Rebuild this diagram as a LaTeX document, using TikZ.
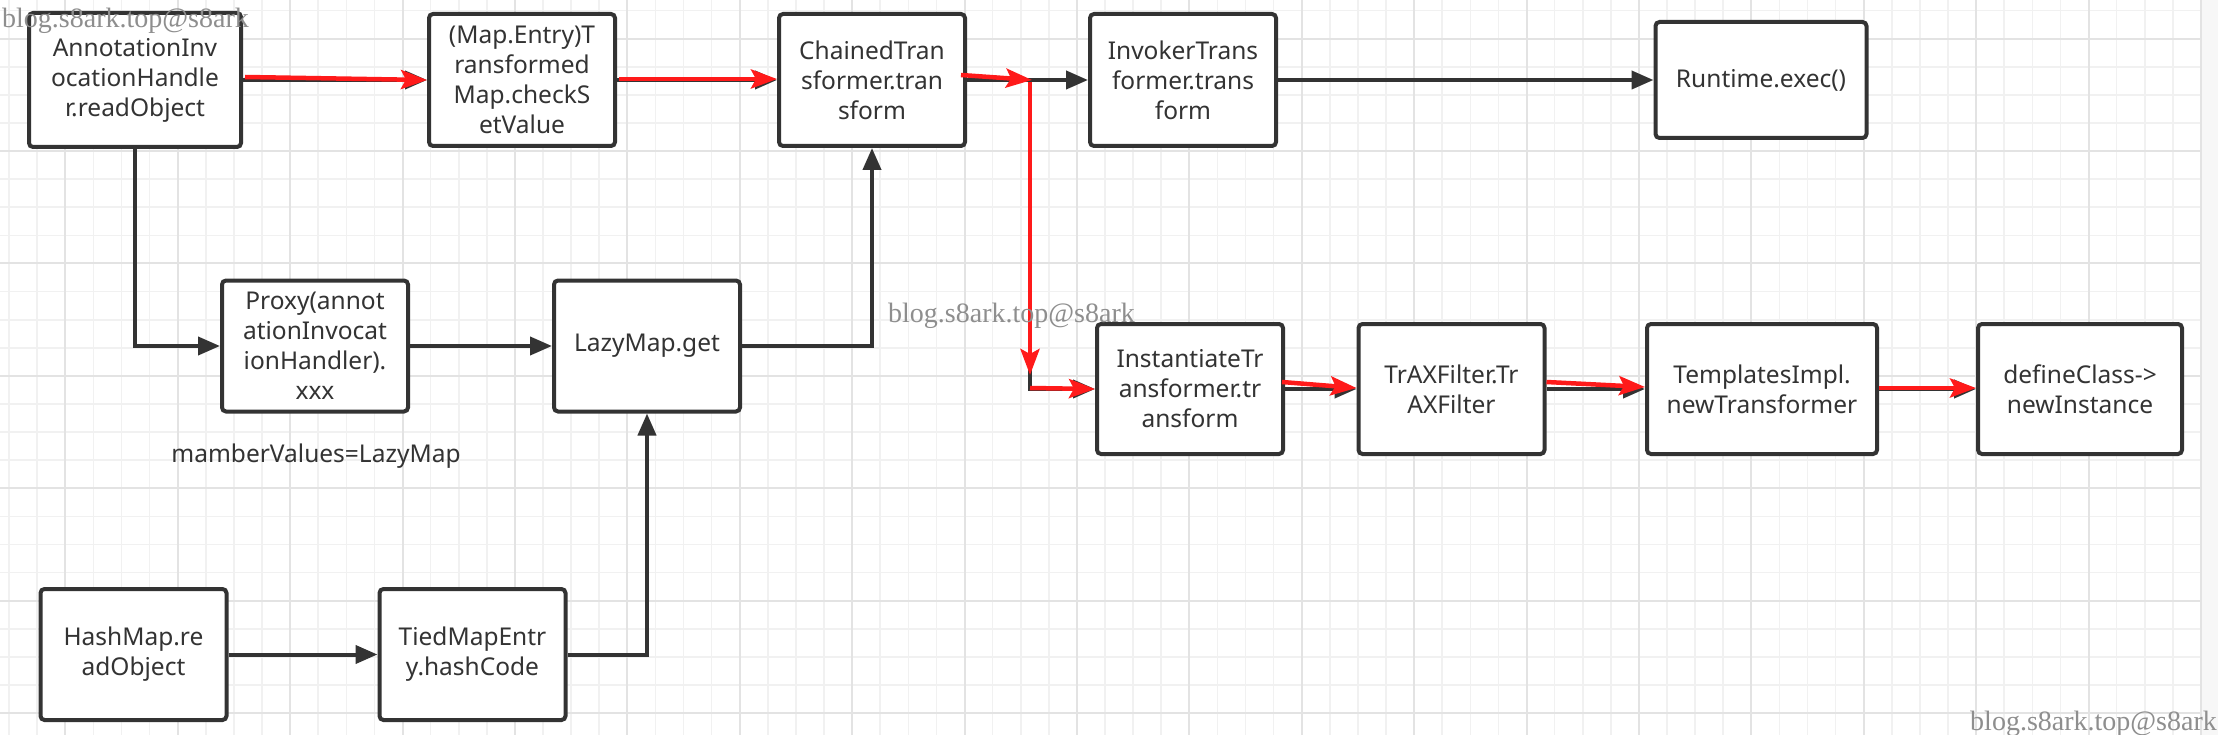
\documentclass[tikz,border=0pt]{standalone}
\usepackage{fontspec}
\setmainfont{Noto Sans}
\newfontfamily\wmfont{Liberation Serif}
\usetikzlibrary{arrows.meta}
\definecolor{boxline}{HTML}{333333}
\definecolor{markred}{HTML}{FF1A1A}
\definecolor{gridminor}{HTML}{F1F1F1}
\definecolor{gridmajor}{HTML}{E3E3E3}
\definecolor{wmgray}{HTML}{8E8E8E}
\tikzset{
  stage/.style={draw=boxline, line width=4pt, rounded corners=4pt, fill=white,
    minimum width=186pt, minimum height=132pt, inner sep=0pt, align=center,
    text=boxline, font=\fontsize{24.5}{30}\selectfont},
  flow/.style={draw=boxline, line width=4pt, -{Triangle[length=22pt,width=18pt]}},
  redmark/.style={draw=markred, line width=4.5pt, -{Stealth[length=26pt,width=19pt,inset=5pt]}},
  watermark/.style={text=wmgray, font=\wmfont\fontsize{28}{28}\selectfont, inner sep=0pt, anchor=base west}
}
\begin{document}
\begin{tikzpicture}[x=1pt,y=-1pt]
  \useasboundingbox (0,0) rectangle (2218,735);
  \fill [white] (0,0) rectangle (2218,735);
  \fill [gridminor!60] (2201,0) rectangle (2218,735);
  % grid paper
  \foreach \gx in {0,...,78}
    \draw [gridminor, line width=1.6pt] ({9.1+28.1*\gx},0) -- ({9.1+28.1*\gx},735);
  \foreach \gy in {0,...,25}
    \draw [gridminor, line width=1.6pt] (0,{10.6+28.1*\gy}) -- (2200,{10.6+28.1*\gy});
  \foreach \gx in {0,...,19}
    \draw [gridmajor, line width=2pt] ({65.3+112.4*\gx},0) -- ({65.3+112.4*\gx},735);
  \foreach \gy in {0,...,6}
    \draw [gridmajor, line width=2pt] (0,{38.7+112.4*\gy}) -- (2200,{38.7+112.4*\gy});
  % upper chain
  \node [stage, minimum width=212pt, minimum height=134pt] (aih) at (135,80) {AnnotationInv\\ocationHandle\\r.readObject};
  \node [stage] (tmap) at (522,80) {(Map.Entry)T\\ransformed\\Map.checkS\\etValue};
  \node [stage] (chained) at (872,80) {ChainedTran\\sformer.tran\\sform};
  \node [stage] (invoker) at (1183,80) {InvokerTrans\\former.trans\\form};
  \node [stage, minimum width=211pt, minimum height=116pt] (runtime) at (1761,80) {Runtime.exec()};
  % middle row
  \node [stage, minimum height=131pt] (proxy) at (315,346) {Proxy(annot\\ationInvocat\\ionHandler).\\xxx};
  \node [stage, minimum height=131pt] (lazymap) at (647,346) {LazyMap.get};
  \node [text=boxline, font=\fontsize{24.5}{30}\selectfont, inner sep=0pt] (members) at (316,456) {mamberValues=LazyMap};
  % lower row
  \node [stage, minimum height=131pt] (hashmap) at (133.5,654.5) {HashMap.re\\adObject};
  \node [stage, minimum height=131pt] (tied) at (472.5,654.5) {TiedMapEntr\\y.hashCode};
  % right chain
  \node [stage, minimum height=130pt] (inst) at (1190,389) {InstantiateTr\\ansformer.tr\\ansform};
  \node [stage, minimum height=130pt] (trax) at (1451.5,389) {TrAXFilter.Tr\\AXFilter};
  \node [stage, minimum width=230pt, minimum height=130pt] (templates) at (1762,389) {TemplatesImpl.\\newTransformer};
  \node [stage, minimum width=204pt, minimum height=130pt] (define) at (2080,389) {defineClass->\\newInstance};
  \coordinate (fork) at (1030,80);
  \coordinate (bend) at (fork |- inst.west);
  % connectors
  \draw [flow] (aih) -- (tmap);
  \draw [flow] (tmap) -- (chained);
  \draw [flow] (chained) -- (invoker);
  \draw [flow] (invoker) -- (runtime);
  \draw [flow] (chained.east) -- (fork) -- (bend) -- (inst.west);
  \draw [flow] (inst) -- (trax);
  \draw [flow] (trax) -- (templates);
  \draw [flow] (templates) -- (define);
  \draw [flow] (aih.south) |- (proxy.west);
  \draw [flow] (proxy) -- (lazymap);
  \draw [flow] (lazymap.east) -| (chained.south);
  \draw [flow] (hashmap) -- (tied);
  \draw [flow] (tied.east) -| (lazymap.south);
  % red marks
  \draw [redmark] ([shift={(2,-3)}]aih.east) -- (tmap.west);
  \draw [redmark] ([shift={(2,-1)}]tmap.east) -- ([yshift=1pt]chained.west);
  \draw [redmark] ([shift={(-6,-5)}]chained.east) -- ([xshift=2pt]fork);
  \draw [redmark] ([yshift=-2pt]fork) -- ([yshift=14pt]bend);
  \draw [redmark] ([yshift=1pt]bend) -- (inst.west);
  \draw [redmark] ([shift={(-3,-7)}]inst.east) -- ([yshift=1pt]trax.west);
  \draw [redmark] ([shift={(0,-7)}]trax.east) -- ([yshift=2pt]templates.west);
  \draw [redmark] ([yshift=1pt]templates.east) -- ([yshift=1pt]define.west);
  % watermarks
  \node [watermark] (mark1) at (2,28) {blog.s8ark.top@s8ark};
  \node [watermark] (mark2) at (888,322) {blog.s8ark.top@s8ark};
  \node [watermark] (mark3) at (1970,730) {blog.s8ark.top@s8ark};
\end{tikzpicture}
\end{document}
